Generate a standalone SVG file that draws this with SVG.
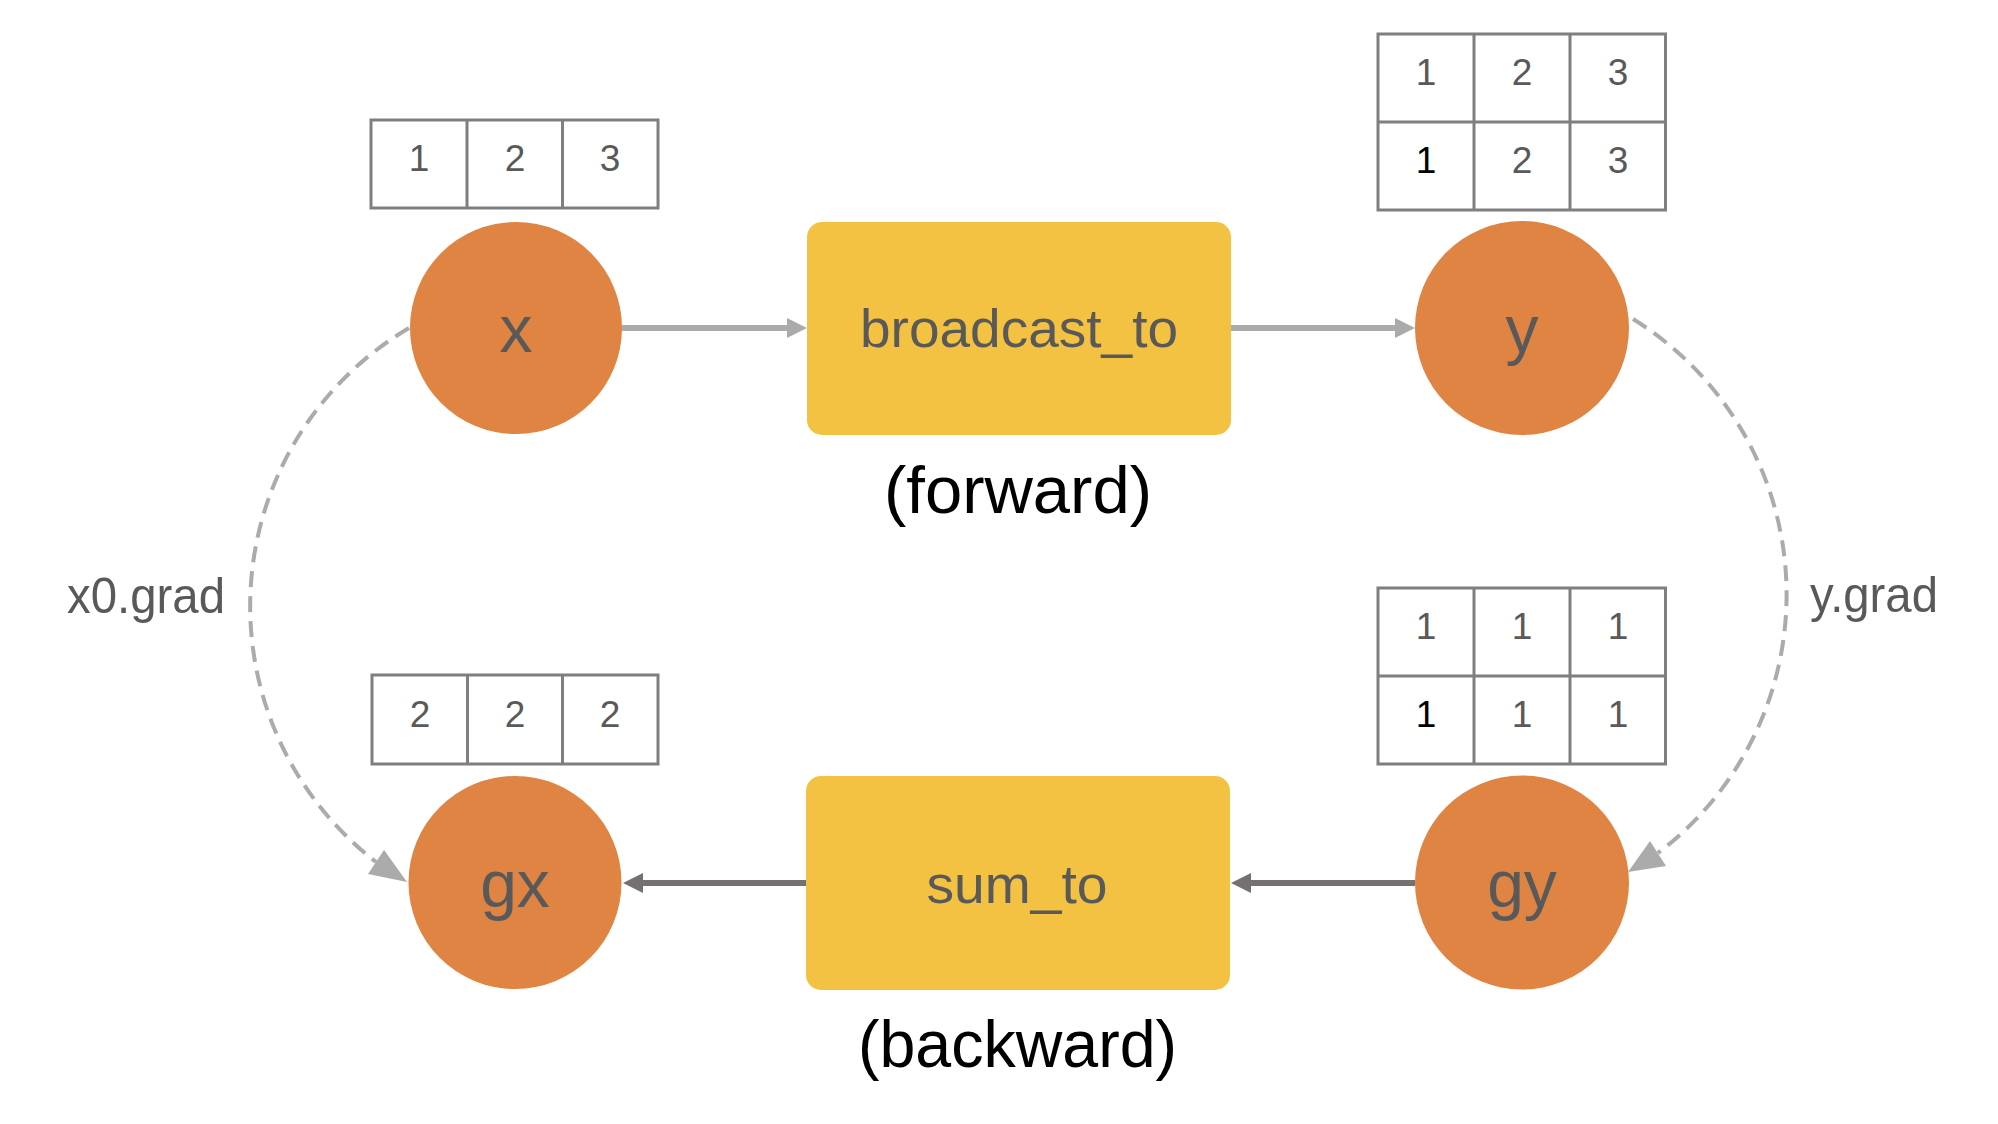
<svg xmlns="http://www.w3.org/2000/svg" width="1998" height="1124" viewBox="0 0 1998 1124">
<style>
  .var { fill: #DF8443; }
  .func { fill: #F4C242; }
  .lbl { font-family: "Liberation Sans", Arial, sans-serif; fill: #595959; text-anchor: middle; }
  .big { font-size: 66px; }
  .fn { font-size: 54px; }
  .cap { font-family: "Liberation Sans", Arial, sans-serif; fill: #000000; font-size: 67px; text-anchor: middle; }
  .side { font-family: "Liberation Sans", Arial, sans-serif; fill: #595959; font-size: 50px; }
  .tbl rect { fill: #FFFFFF; stroke: #7F7F7F; stroke-width: 3; }
  .tbl line { stroke: #7F7F7F; stroke-width: 3; }
  .num { font-family: "Liberation Sans", Arial, sans-serif; font-size: 37px; fill: #595959; text-anchor: middle; }
  .blk { fill: #000000; }
  .fwd { stroke: #ABABAB; stroke-width: 6; fill: none; }
  .fwdh { fill: #ABABAB; }
  .bwd { stroke: #767171; stroke-width: 6; fill: none; }
  .bwdh { fill: #767171; }
  .dash { stroke: #ABABAB; stroke-width: 4; fill: none; stroke-dasharray: 16 9; }
</style>

<g id="connectors">
  <line class="fwd" x1="622" y1="328" x2="789" y2="328"/>
  <polygon class="fwdh" points="807,328 787,318 787,338"/>
  <line class="fwd" x1="1231" y1="328" x2="1397" y2="328"/>
  <polygon class="fwdh" points="1415,328 1395,318 1395,338"/>
  <line class="bwd" x1="1415" y1="883" x2="1249" y2="883"/>
  <polygon class="bwdh" points="1231,883 1251,873 1251,893"/>
  <line class="bwd" x1="806" y1="883" x2="641" y2="883"/>
  <polygon class="bwdh" points="623,883 643,873 643,893"/>
  <path class="dash" d="M 409 328 A 323 323 0 0 0 376 862"/>
  <polygon class="fwdh" points="407,882 368,874 384,850"/>
  <path class="dash" d="M 1633 319 A 324 324 0 0 1 1658 853"/>
  <polygon class="fwdh" points="1628,872 1650,841 1666,866"/>
  <text class="side" x="67" y="613" textLength="158" lengthAdjust="spacingAndGlyphs">x0.grad</text>
  <text class="side" x="1810" y="612" textLength="128" lengthAdjust="spacingAndGlyphs">y.grad</text>
</g>

<g id="node-x">
  <circle class="var" cx="516" cy="328" r="106"/>
  <text class="lbl big" x="516" y="352">x</text>
  <g class="tbl">
    <rect x="371" y="120" width="287" height="88"/>
    <line x1="467" y1="120" x2="467" y2="208"/>
    <line x1="562.5" y1="120" x2="562.5" y2="208"/>
  </g>
  <text class="num" x="419" y="171">1</text>
  <text class="num" x="515" y="171">2</text>
  <text class="num" x="610" y="171">3</text>
</g>

<g id="node-broadcast_to">
  <rect class="func" x="807" y="222" width="424" height="213" rx="15" ry="15"/>
  <text class="lbl fn" x="1019" y="347" textLength="318" lengthAdjust="spacingAndGlyphs">broadcast_to</text>
  <text class="cap" x="1018" y="513" textLength="268" lengthAdjust="spacingAndGlyphs">(forward)</text>
</g>

<g id="node-y">
  <circle class="var" cx="1522" cy="328" r="107"/>
  <text class="lbl big" x="1522" y="352">y</text>
  <g class="tbl">
    <rect x="1378" y="34" width="287.5" height="176"/>
    <line x1="1378" y1="122" x2="1665.5" y2="122"/>
    <line x1="1474" y1="34" x2="1474" y2="210"/>
    <line x1="1570" y1="34" x2="1570" y2="210"/>
  </g>
  <text class="num" x="1426" y="85">1</text>
  <text class="num" x="1522" y="85">2</text>
  <text class="num" x="1618" y="85">3</text>
  <text class="num blk" x="1426" y="173">1</text>
  <text class="num" x="1522" y="173">2</text>
  <text class="num" x="1618" y="173">3</text>
</g>

<g id="node-gx">
  <circle class="var" cx="515" cy="882.5" r="106.5"/>
  <text class="lbl big" x="515" y="907">gx</text>
  <g class="tbl">
    <rect x="372" y="675" width="286" height="89"/>
    <line x1="467.5" y1="675" x2="467.5" y2="764"/>
    <line x1="562.5" y1="675" x2="562.5" y2="764"/>
  </g>
  <text class="num" x="420" y="727">2</text>
  <text class="num" x="515" y="727">2</text>
  <text class="num" x="610" y="727">2</text>
</g>

<g id="node-sum_to">
  <rect class="func" x="806" y="776" width="424" height="214" rx="15" ry="15"/>
  <text class="lbl fn" x="1017" y="903" textLength="181" lengthAdjust="spacingAndGlyphs">sum_to</text>
  <text class="cap" x="1017.5" y="1067" textLength="319" lengthAdjust="spacingAndGlyphs">(backward)</text>
</g>

<g id="node-gy">
  <circle class="var" cx="1522" cy="882.5" r="107"/>
  <text class="lbl big" x="1522" y="907">gy</text>
  <g class="tbl">
    <rect x="1378" y="588" width="287.5" height="176"/>
    <line x1="1378" y1="676" x2="1665.5" y2="676"/>
    <line x1="1474" y1="588" x2="1474" y2="764"/>
    <line x1="1570" y1="588" x2="1570" y2="764"/>
  </g>
  <text class="num" x="1426" y="638.5">1</text>
  <text class="num" x="1522" y="638.5">1</text>
  <text class="num" x="1618" y="638.5">1</text>
  <text class="num blk" x="1426" y="727">1</text>
  <text class="num" x="1522" y="727">1</text>
  <text class="num" x="1618" y="727">1</text>
</g>
</svg>
